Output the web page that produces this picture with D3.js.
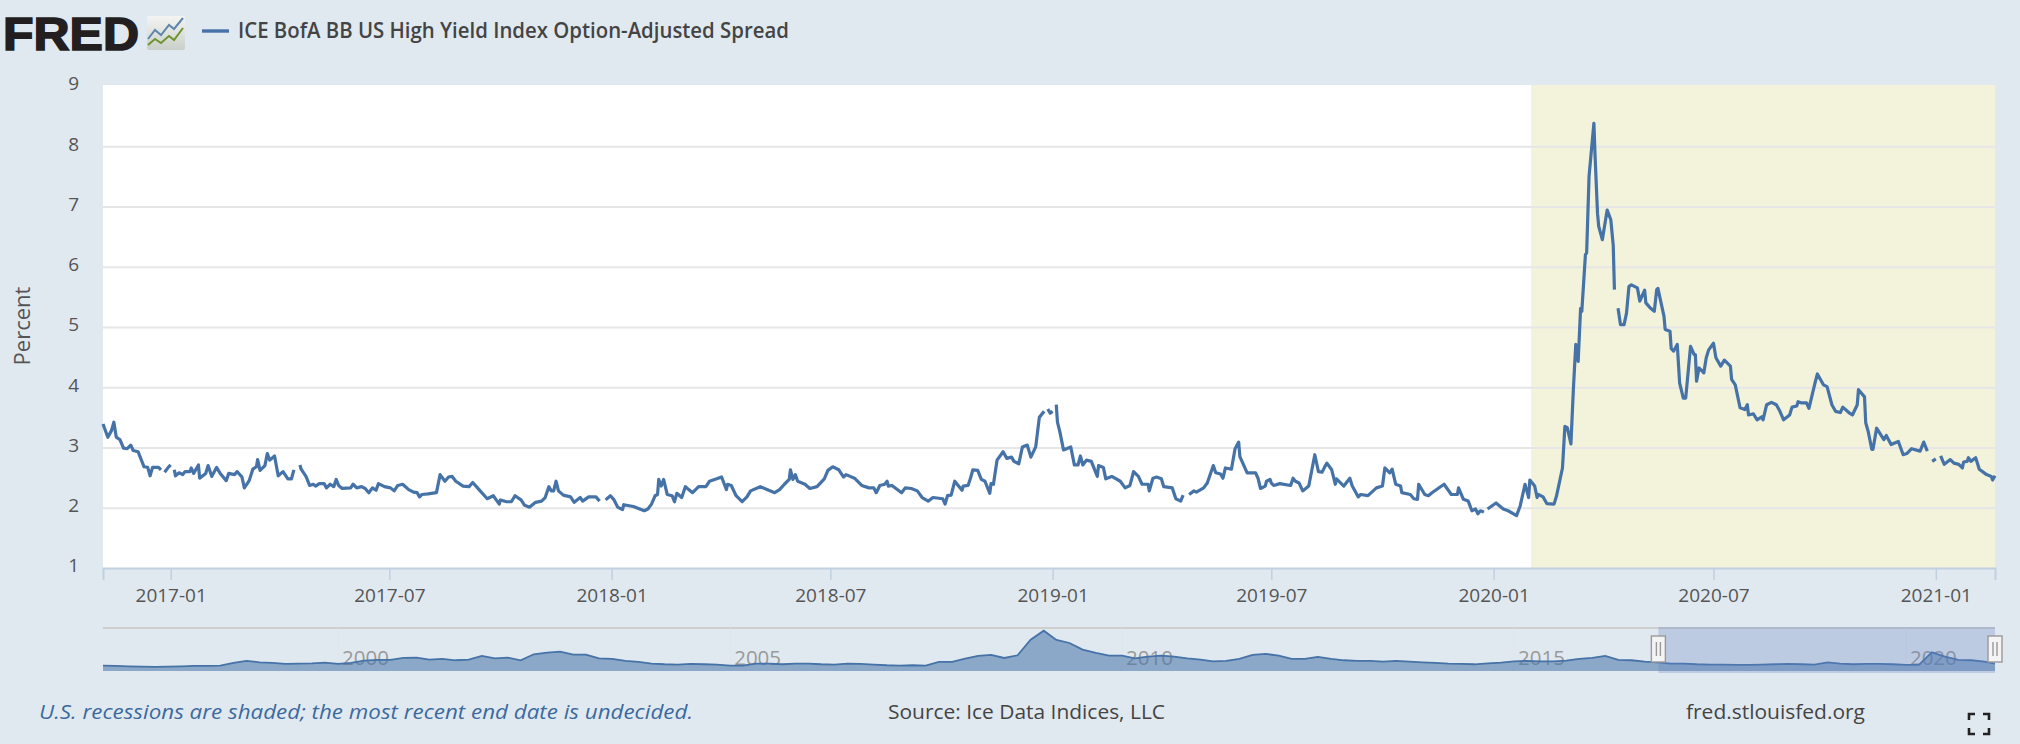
<!DOCTYPE html>
<html>
<head>
<meta charset="utf-8">
<title>ICE BofA BB US High Yield Index Option-Adjusted Spread</title>
<script src="https://cdnjs.cloudflare.com/ajax/libs/d3/7.8.5/d3.min.js"></script>
<style>
  html, body { margin: 0; padding: 0; background: #e1e9f0; }
  svg { display: block; }
  text { font-family: "Open Sans", sans-serif; }
</style>
</head>
<body>
<svg id="chart" width="2020" height="744"></svg>
<script>
// Observation days, counted from the first day of the main window.
const startDay = new Date(2016, 10, 6);
const lastDay = 1566;
const obsDay = [
  0,4,7,9,11,14,17,20,23,25,29,34,37,39,41,46,48,50,51,54,56,58,59,60,
  63,66,68,72,73,75,79,80,85,87,90,94,97,102,104,109,111,115,117,121,124,127,128,130,
  134,136,138,142,145,149,153,156,158,160,163,164,168,171,174,176,179,183,185,188,191,193,195,198,
  205,207,210,214,217,220,223,226,228,233,238,241,244,248,253,257,260,262,264,269,276,279,283,286,
  289,292,298,303,306,310,318,323,328,329,334,338,341,346,349,353,358,363,366,369,371,373,375,377,
  381,387,390,395,397,402,408,411,413,416,420,423,426,430,431,439,448,451,454,457,459,460,462,464,
  467,471,473,475,479,482,485,488,493,499,502,508,512,516,517,520,524,529,533,536,544,550,556,560,
  564,568,569,571,573,575,581,585,591,597,600,604,609,613,615,622,628,634,638,640,643,647,649,650,
  653,661,664,669,674,678,683,687,695,697,699,702,705,711,712,716,718,720,724,727,730,734,735,737,
  740,745,748,752,754,758,761,765,768,772,775,779,780,782,784,786,787,789,790,792,795,801,804,807,
  809,811,814,818,823,824,828,830,835,842,846,850,853,857,860,865,866,869,872,876,878,885,888,892,
  894,896,899,903,905,911,914,919,921,925,927,929,934,937,940,941,947,954,956,958,962,963,966,967,
  969,974,983,985,987,990,993,998,1003,1006,1009,1011,1013,1017,1020,1021,1027,1032,1034,1039,1041,1047,1054,1059,
  1061,1065,1067,1070,1074,1075,1082,1085,1088,1089,1094,1097,1100,1110,1116,1121,1122,1126,1130,1133,1136,1138,1140,1143,
  1145,1146,1153,1159,1163,1170,1173,1177,1180,1181,1185,1187,1188,1192,1195,1201,1203,1208,1210,1212,1215,1217,1219,1221,
  1223,1224,1227,1228,1230,1234,1235,1237,1238,1241,1245,1248,1250,1251,1252,1254,1256,1259,1261,1263,1265,1270,1272,1276,
  1277,1281,1284,1286,1287,1292,1293,1297,1298,1300,1303,1305,1308,1310,1314,1317,1318,1319,1321,1325,1327,1329,1333,1335,
  1339,1342,1347,1348,1351,1355,1359,1361,1362,1366,1369,1373,1374,1377,1381,1385,1388,1391,1396,1398,1402,1403,1406,1410,
  1412,1417,1419,1424,1427,1431,1434,1438,1440,1445,1448,1452,1453,1458,1459,1461,1464,1465,1468,1474,1476,1480,1486,1490,
  1493,1497,1504,1507,1510,1512,1514,1517,1518,1521,1524,1529,1532,1536,1539,1540,1543,1544,1546,1550,1553,1559,1563,1564,1566
];

// Option-adjusted spread in percent, one entry per observation day; null marks a missing reading.
const spreadPct = [
  3.39,3.17,3.28,3.42,3.17,3.13,2.99,2.98,3.04,2.95,2.93,2.68,2.67,2.53,2.67,2.67,2.63,null,2.59,2.67,2.71,null,2.63,2.53,
  2.58,2.55,2.60,2.60,2.66,2.57,2.71,2.49,2.57,2.70,2.52,2.67,2.57,2.45,2.57,2.55,2.60,2.51,2.33,2.45,2.64,2.68,2.80,2.62,
  2.70,2.90,2.79,2.86,2.53,2.60,2.48,2.48,2.63,null,2.71,2.64,2.52,2.37,2.39,2.36,2.40,2.40,2.33,2.39,2.35,2.47,2.37,2.32,
  2.33,2.39,2.33,2.35,2.32,2.25,2.33,2.29,2.40,2.35,2.33,2.28,2.37,2.39,2.30,2.26,2.25,2.18,2.22,2.23,2.25,2.55,2.44,2.51,
  2.52,2.44,2.36,2.35,2.42,2.33,2.15,2.20,2.06,2.13,2.10,2.10,2.20,2.13,2.04,2.01,2.09,2.11,2.17,2.35,2.28,2.28,2.44,2.28,
  2.21,2.18,2.09,2.17,2.11,2.18,2.18,2.11,null,2.13,2.20,2.13,2.01,1.97,2.05,2.02,1.95,1.98,2.06,2.20,2.22,2.47,2.36,2.47,
  2.22,2.20,2.10,2.24,2.17,2.35,2.30,2.25,2.35,2.35,2.44,2.48,2.51,2.30,2.39,2.37,2.20,2.10,2.18,2.28,2.35,2.30,2.25,2.30,
  2.39,2.47,2.63,2.47,2.55,2.44,2.39,2.32,2.35,2.48,2.62,2.68,2.63,2.51,2.55,2.49,2.37,2.33,2.33,2.25,2.37,2.39,2.44,2.36,
  2.37,2.25,2.33,2.32,2.28,2.17,2.11,2.17,2.15,2.06,2.20,2.21,2.44,2.29,2.36,2.37,2.49,2.63,2.62,2.47,2.44,2.24,2.40,2.39,
  2.79,2.93,2.82,2.84,2.77,2.73,3.01,3.04,2.84,3.01,3.50,3.60,null,3.64,3.57,3.60,null,3.71,3.42,3.26,2.96,3.01,2.71,2.71,
  2.86,2.71,2.79,2.77,2.52,2.70,2.67,2.48,2.52,2.44,2.33,2.37,2.60,2.52,2.39,2.39,2.28,2.49,2.51,2.48,2.35,2.33,2.15,2.11,
  2.21,null,2.22,2.28,2.26,2.33,2.41,2.70,2.58,2.56,2.49,2.66,2.64,2.98,3.09,2.85,2.58,2.58,2.49,2.32,2.36,2.44,2.47,2.41,
  2.37,2.40,2.37,2.49,2.44,2.41,2.28,2.36,2.88,2.60,2.59,2.67,2.74,2.63,2.39,2.48,2.36,2.49,2.36,2.18,2.22,2.20,2.33,2.36,
  2.66,2.58,2.64,2.39,2.36,2.25,2.22,2.15,2.14,2.39,2.22,2.20,2.25,2.39,2.22,2.22,2.33,2.14,2.11,1.95,1.98,1.90,1.95,1.93,
  null,1.98,2.08,1.98,1.95,1.87,2.03,2.39,2.17,2.46,2.36,2.17,2.22,2.18,2.07,2.06,2.19,2.66,3.35,3.33,3.06,3.96,4.71,4.43,
  5.31,5.26,6.20,6.23,7.50,8.38,7.83,6.89,6.67,6.45,6.94,6.78,6.36,5.62,null,5.31,5.04,5.04,5.23,5.67,5.70,5.65,5.43,5.61,
  5.40,5.31,5.26,5.62,5.64,5.18,4.96,4.93,4.64,4.60,4.71,4.07,3.82,3.82,4.68,4.54,4.54,4.10,4.32,4.24,4.49,4.62,4.73,4.49,
  4.35,4.45,4.35,4.13,4.04,3.66,3.63,3.71,3.54,3.56,3.46,3.51,3.46,3.71,3.75,3.71,3.60,3.46,3.54,3.67,3.69,3.76,3.74,3.74,
  3.65,4.07,4.22,4.04,4.01,3.71,3.60,3.58,3.67,3.58,3.54,3.71,3.96,3.84,3.41,3.27,2.97,2.97,3.32,3.13,3.20,3.05,3.10,2.88,
  2.90,2.98,2.94,3.09,2.94,null,2.77,2.81,null,2.86,2.72,2.80,2.74,2.72,2.66,2.76,2.77,2.83,2.77,2.83,2.64,2.55,2.52,2.46,2.53
];

// Full history for the range selector, one reading every two months from January 1997.
const historyPct = [
  2.33,2.19,2.04,1.90,1.76,1.90,2.04,2.19,2.19,2.33,
  3.48,4.35,3.77,3.48,3.05,3.20,3.34,3.63,3.05,3.48,
  4.49,4.78,4.78,5.64,5.79,4.92,5.21,4.64,4.92,6.51,
  5.50,5.79,4.64,7.23,7.95,8.38,7.08,7.08,5.50,5.21,
  4.35,3.92,3.20,2.91,2.76,3.05,2.91,2.76,2.33,2.33,
  3.20,3.20,2.91,3.20,3.20,2.91,2.76,3.20,3.05,2.76,
  2.48,2.33,2.48,2.33,3.92,3.92,5.36,6.51,6.94,5.64,
  6.80,13.56,17.45,13.42,12.12,9.24,7.80,6.65,6.65,5.50,
  6.22,6.65,6.22,5.50,4.92,4.20,4.35,5.21,6.94,7.37,
  6.65,5.21,5.21,6.08,5.21,4.64,4.35,4.35,4.06,4.35,
  4.06,3.77,3.48,3.20,3.05,2.91,3.34,3.63,4.20,4.35,
  4.20,4.20,4.49,5.21,5.64,6.51,4.78,4.64,4.06,3.77,
  3.20,3.20,2.91,2.76,2.76,2.62,2.62,2.76,2.91,3.05,
  2.91,2.76,3.77,3.20,2.91,3.05,3.05,2.91,2.62,2.62,
  8.10,6.22,4.78,4.64,4.06,3.05,2.91
];

const yTicks = [1, 2, 3, 4, 5, 6, 7, 8, 9];
const historyYears = [2000, 2005, 2010, 2015, 2020];
const recessionStart = new Date(2020, 1, 1);

const seriesName = "ICE BofA BB US High Yield Index Option-Adjusted Spread";
const recessionNote = "U.S. recessions are shaded; the most recent end date is undecided.";
const sourceNote = "Source: Ice Data Indices, LLC";
const siteNote = "fred.stlouisfed.org";

const lineBlue = "#4572a7";
const svg = d3.select("#chart");

const plot = { left: 103, right: 1995, top: 85, bottom: 568 };
const nav = { top: 628, bottom: 671 };

const x = d3.scaleTime()
  .domain([startDay, d3.timeDay.offset(startDay, lastDay)])
  .range([plot.left, plot.right]);
const y = d3.scaleLinear().domain([1, 9]).range([plot.bottom, plot.top + 1]);

const navX = d3.scaleTime()
  .domain([new Date(1997, 0, 1), x.domain()[1]])
  .range([plot.left, plot.right]);
const navY = d3.scaleLinear().domain([0, 18.6]).range([nav.bottom, nav.top]);

// Page background and plot area
svg.append("rect").attr("width", 2020).attr("height", 744).attr("fill", "#e1e9f0");
svg.append("rect")
  .attr("x", plot.left).attr("y", plot.top)
  .attr("width", plot.right - plot.left).attr("height", plot.bottom - plot.top)
  .attr("fill", "#fff");

// Recession band
svg.append("rect")
  .attr("x", x(recessionStart)).attr("y", plot.top)
  .attr("width", plot.right - x(recessionStart)).attr("height", plot.bottom - plot.top)
  .attr("fill", "#f3f3dc");

// Value axis with gridlines
const yAxis = svg.append("g")
  .attr("transform", `translate(${plot.left},0)`)
  .call(d3.axisLeft(y).tickValues(yTicks).tickFormat(d3.format("d"))
    .tickSize(-(plot.right - plot.left)).tickPadding(24));
yAxis.select(".domain").remove();
yAxis.selectAll(".tick line").attr("stroke", "#e6e6e6").attr("stroke-width", 2)
  .filter(d => d === 1 || d === 9).remove();
yAxis.selectAll("text").attr("font-size", 19).attr("fill", "#555").attr("dy", "0.2em");

svg.append("text")
  .attr("transform", "translate(30,326) rotate(-90)")
  .attr("text-anchor", "middle")
  .attr("font-size", 22).attr("fill", "#555")
  .text("Percent");

// Time axis
const xAxis = svg.append("g")
  .attr("transform", `translate(0,${plot.bottom})`)
  .call(d3.axisBottom(x).ticks(d3.timeMonth.every(6)).tickFormat(d3.timeFormat("%Y-%m"))
    .tickSize(12).tickPadding(9));
xAxis.select(".domain").attr("stroke", "#c0d0e0").attr("stroke-width", 2);
xAxis.selectAll(".tick line").attr("stroke", "#c0d0e0").attr("stroke-width", 1.5);
xAxis.selectAll("text").attr("font-size", 19).attr("fill", "#555");

// Main spread line; missing readings leave gaps
const points = obsDay.map((d, i) => ({ date: d3.timeDay.offset(startDay, d), value: spreadPct[i] }));
svg.append("path")
  .datum(points)
  .attr("fill", "none")
  .attr("stroke", lineBlue)
  .attr("stroke-width", 3.2)
  .attr("stroke-linejoin", "round")
  .attr("d", d3.line()
    .defined(d => d.value !== null)
    .x(d => x(d.date))
    .y(d => y(d.value)));

// Header: logo wordmark, small chart badge, legend entry
const defs = svg.append("defs");
const badgeFill = defs.append("linearGradient").attr("id", "badgeFill")
  .attr("x1", 0).attr("y1", 0).attr("x2", 0).attr("y2", 1);
badgeFill.append("stop").attr("offset", 0).attr("stop-color", "#f4f5f3");
badgeFill.append("stop").attr("offset", 1).attr("stop-color", "#c9cfc9");

svg.append("text")
  .attr("x", 3).attr("y", 50)
  .attr("font-size", 46).attr("font-weight", 900)
  .attr("textLength", 136).attr("lengthAdjust", "spacingAndGlyphs")
  .attr("fill", "#231f20")
  .style("font-family", "'Liberation Sans', sans-serif")
  .style("stroke", "#231f20").style("stroke-width", 1.6)
  .text("FRED");
const badge = svg.append("g").attr("transform", "translate(147,16)");
badge.append("rect").attr("width", 38).attr("height", 34).attr("rx", 2).attr("fill", "url(#badgeFill)");
badge.append("path").attr("d", "M1,23 L8,14 L14,19 L22,9 L27,13 L36,2")
  .attr("fill", "none").attr("stroke", "#5f86ab").attr("stroke-width", 2);
badge.append("path").attr("d", "M1,29 L8,23 L14,27 L22,20 L27,24 L36,12")
  .attr("fill", "none").attr("stroke", "#6f9330").attr("stroke-width", 2);

svg.append("line")
  .attr("x1", 202).attr("x2", 229).attr("y1", 31).attr("y2", 31)
  .attr("stroke", lineBlue).attr("stroke-width", 3.4);
svg.append("text")
  .attr("x", 238).attr("y", 38)
  .attr("font-size", 21).attr("font-weight", 600).attr("fill", "#444")
  .attr("textLength", 551).attr("lengthAdjust", "spacingAndGlyphs")
  .text(seriesName);

// Range selector: history area, year labels, selected window and handles
const navClip = defs.append("clipPath").attr("id", "navClip");
navClip.append("rect")
  .attr("x", plot.left).attr("y", nav.top)
  .attr("width", plot.right - plot.left).attr("height", nav.bottom - nav.top);

svg.append("line")
  .attr("x1", plot.left).attr("x2", plot.right).attr("y1", nav.top).attr("y2", nav.top)
  .attr("stroke", "#cfcfcf").attr("stroke-width", 2);

const historyDates = historyPct.map((_, i) => d3.timeMonth.offset(new Date(1997, 0, 1), i * 2));
const historyPoints = historyPct.map((v, i) => ({ date: historyDates[i], value: v }));

const yearMarks = svg.append("g").selectAll("g").data(historyYears).join("g")
  .attr("transform", d => `translate(${navX(new Date(d, 0, 1))},0)`);
yearMarks.append("line")
  .attr("y1", nav.top).attr("y2", nav.bottom)
  .attr("stroke", "#dfe5ea").attr("stroke-width", 1);

const navLayer = svg.append("g").attr("clip-path", "url(#navClip)");
navLayer.append("path")
  .datum(historyPoints)
  .attr("fill", lineBlue).attr("fill-opacity", 0.55)
  .attr("d", d3.area().x(d => navX(d.date)).y0(nav.bottom).y1(d => navY(d.value)));
navLayer.append("path")
  .datum(historyPoints)
  .attr("fill", "none").attr("stroke", lineBlue).attr("stroke-width", 1.8)
  .attr("d", d3.line().x(d => navX(d.date)).y(d => navY(d.value)));

yearMarks.append("text")
  .attr("x", 4).attr("y", 665)
  .attr("font-size", 20.5).attr("fill", "#999")
  .text(d => d);

const selLeft = navX(startDay) - 0.5;
svg.append("rect")
  .attr("x", selLeft).attr("y", nav.top - 1)
  .attr("width", plot.right - selLeft).attr("height", nav.bottom - nav.top + 3)
  .attr("fill", "#6685c2").attr("fill-opacity", 0.3);

const handles = svg.append("g").selectAll("g").data([selLeft, plot.right]).join("g")
  .attr("transform", d => `translate(${d},636)`);
handles.append("rect")
  .attr("x", -7).attr("width", 14).attr("height", 26)
  .attr("fill", "#f4f4f4").attr("stroke", "#999").attr("stroke-width", 1.4);
handles.append("path")
  .attr("d", "M-2,6V20M2,6V20")
  .attr("stroke", "#999").attr("stroke-width", 1.4);

// Footer notes
svg.append("text")
  .attr("x", 39).attr("y", 719)
  .attr("font-size", 20).attr("font-style", "italic").attr("fill", "#3b6a9e")
  .attr("textLength", 654).attr("lengthAdjust", "spacingAndGlyphs")
  .text(recessionNote);
svg.append("text")
  .attr("x", 888).attr("y", 719)
  .attr("font-size", 20).attr("fill", "#444")
  .attr("textLength", 277).attr("lengthAdjust", "spacingAndGlyphs")
  .text(sourceNote);
svg.append("text")
  .attr("x", 1686).attr("y", 719)
  .attr("font-size", 20).attr("fill", "#444")
  .attr("textLength", 179).attr("lengthAdjust", "spacingAndGlyphs")
  .text(siteNote);

// Fullscreen corners
svg.append("path")
  .attr("d", "M1969,720V714H1975M1983,714H1989V720M1989,728V734H1983M1975,734H1969V728")
  .attr("fill", "none").attr("stroke", "#222").attr("stroke-width", 2.6);
</script>
</body>
</html>
